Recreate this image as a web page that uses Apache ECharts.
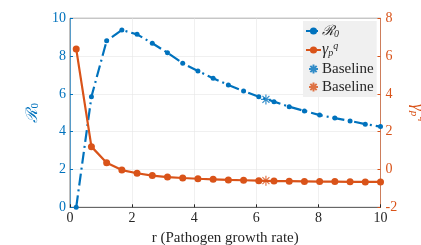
<!DOCTYPE html>
<html><head><meta charset="utf-8">
<script src="https://cdn.jsdelivr.net/npm/echarts@6/dist/echarts.min.js"></script>
<style>html,body{margin:0;padding:0;background:#fff}#c{width:421px;height:245px}</style>
</head><body><div id="c"></div>
<script>
const rValues = [0.2,0.69,1.18,1.67,2.16,2.65,3.14,3.63,4.12,4.61,5.1,5.59,6.08,6.57,7.06,7.55,8.04,8.53,9.02,9.51,10];
const r0Values = [0,5.85,8.81,9.38,9.15,8.68,8.18,7.62,7.21,6.83,6.47,6.15,5.85,5.59,5.32,5.10,4.88,4.72,4.57,4.40,4.27];
const gammaValues = [6.38,1.21,0.36,-0.03,-0.20,-0.32,-0.40,-0.45,-0.49,-0.52,-0.55,-0.57,-0.59,-0.61,-0.62,-0.63,-0.64,-0.64,-0.65,-0.66,-0.66];
const baselineR = 6.31;
const baselineR0 = 5.71;
const baselineGamma = -0.59;
const xTicks = [0,2,4,6,8,10];
const leftTicks = [0,2,4,6,8,10];
const rightTicks = [-2,0,2,4,6,8];

const BLUE = '#0072BD', ORANGE = '#D95319';
const SERIF = '"Liberation Serif", "DejaVu Serif", serif';
const star = 'path://M0,-10L0,10M-10,0L10,0M-7,-7L7,7M-7,7L7,-7';

const chart = echarts.init(document.getElementById('c'), null, {renderer:'canvas'});
chart.setOption({
  animation:false,
  textStyle:{fontFamily:SERIF},
  grid:{left:70, right:40.5, top:18.3, bottom:37.7, outerBoundsMode:'none', containLabel:false,
    show:true, borderColor:'#262626', borderWidth:0.6},
  xAxis:{type:'value', min:0, max:10, interval:2,
    name:'r (Pathogen growth rate)', nameLocation:'middle', nameGap:17,
    nameTextStyle:{fontFamily:SERIF, fontSize:15, color:'#262626'},
    axisLine:{show:true, lineStyle:{color:'#262626', width:0.6}},
    axisTick:{show:true, inside:true, length:3, lineStyle:{color:'#262626'}},
    axisLabel:{fontFamily:SERIF, fontSize:14, color:'#262626', margin:4,
      customValues: xTicks},
    splitLine:{show:true, lineStyle:{color:'#e6e6e6', width:0.6}}},
  yAxis:[
    {type:'value', min:0, max:10, interval:2, position:'left',
      name:'{a|ℛ}{s|0}', nameLocation:'middle', nameGap:24, nameRotate:90,
      nameTextStyle:{color:BLUE, rich:{a:{fontFamily:'"DejaVu Serif", serif', fontSize:16, color:BLUE, fontStyle:'italic'}, s:{fontFamily:SERIF, fontSize:11, color:BLUE, verticalAlign:'bottom', padding:[6,0,0,0]}}},
      axisLine:{show:true, lineStyle:{color:BLUE, width:0.6}},
      axisTick:{show:true, inside:true, length:3},
      axisLabel:{fontFamily:SERIF, fontSize:14, color:BLUE, margin:4, customValues:leftTicks},
      splitLine:{show:true, lineStyle:{color:'#e6e6e6', width:0.6}}},
    {type:'value', min:-2, max:8, interval:2, position:'right',
      name:'{g|γ}{s|p}{q|q}', nameLocation:'middle', nameGap:20, nameRotate:-90,
      nameTextStyle:{color:ORANGE, rich:{g:{fontFamily:SERIF, fontSize:17, color:ORANGE, fontStyle:'italic'}, s:{fontFamily:SERIF, fontSize:11, color:ORANGE, fontStyle:'italic', padding:[8,0,0,0]}, q:{fontFamily:SERIF, fontSize:11, color:ORANGE, fontStyle:'italic', padding:[0,0,10,0]}}},
      axisLine:{show:true, lineStyle:{color:ORANGE, width:0.6}},
      axisTick:{show:true, inside:true, length:3},
      axisLabel:{fontFamily:SERIF, fontSize:14, color:ORANGE, margin:5, customValues:rightTicks},
      splitLine:{show:false}}
  ],
  legend:{
    orient:'vertical', left:303, top:21, padding:[2,3,2,2], itemGap:2,
    backgroundColor:'#f0f0f0', borderWidth:0,
    itemWidth:15, itemHeight:9,
    data:[{name:'R0'},{name:'gamma'},{name:'Baseline1', icon:star},{name:'Baseline2', icon:star}],
    formatter:function(n){
      if(n==='R0') return '{a|ℛ}{s|0}';
      if(n==='gamma') return '{g|γ}{s|p}{q|q}';
      return '{b|Baseline}';
    },
    textStyle:{fontFamily:SERIF, fontSize:15, color:'#262626', padding:[0,0,0,-4], lineHeight:16,
      rich:{a:{fontFamily:'"DejaVu Serif", serif', fontSize:14, fontStyle:'italic', color:'#262626', lineHeight:16},
        s:{fontFamily:SERIF, fontSize:10, fontStyle:'italic', color:'#262626', padding:[6,0,0,0], lineHeight:16},
        g:{fontFamily:SERIF, fontSize:16, fontStyle:'italic', color:'#262626', lineHeight:16},
        q:{fontFamily:SERIF, fontSize:10, fontStyle:'italic', color:'#262626', padding:[0,0,8,0], lineHeight:16},
        b:{fontFamily:SERIF, fontSize:15, color:'#262626', lineHeight:16}}}
  },
  series:[
    {name:'R0', type:'line', yAxisIndex:0, data:rValues.map((r,i)=>[r,r0Values[i]]),
      symbol:'circle', symbolSize:5, itemStyle:{color:BLUE},
      lineStyle:{color:BLUE, width:2.2, type:[12,4,2,4]}, z:3},
    {name:'gamma', type:'line', yAxisIndex:1, data:rValues.map((r,i)=>[r,gammaValues[i]]),
      symbol:'circle', symbolSize:7, itemStyle:{color:ORANGE},
      lineStyle:{color:ORANGE, width:2.2}, z:4},
    {name:'Baseline1', type:'scatter', yAxisIndex:0, data:[[baselineR, baselineR0]],
      symbol:star, symbolSize:10, itemStyle:{color:'transparent', borderColor:BLUE, borderWidth:1.2}, z:5},
    {name:'Baseline2', type:'scatter', yAxisIndex:1, data:[[baselineR, baselineGamma]],
      symbol:star, symbolSize:10, itemStyle:{color:'transparent', borderColor:ORANGE, borderWidth:1.2}, z:5}
  ]
});
</script></body></html>
